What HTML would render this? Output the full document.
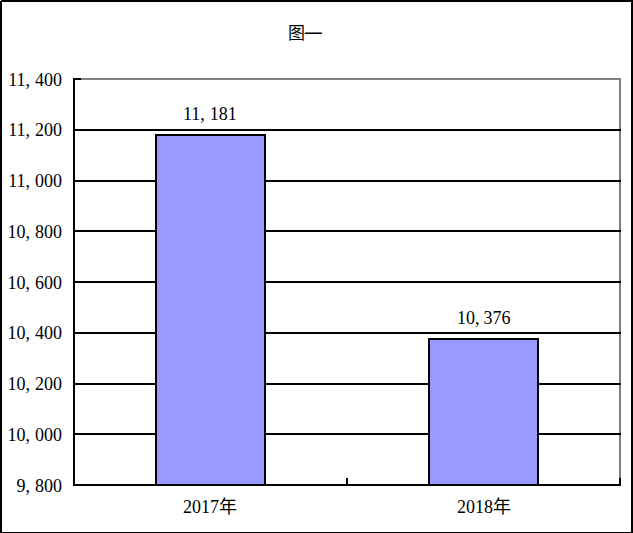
<!DOCTYPE html>
<html><head><meta charset="utf-8">
<style>
html,body{margin:0;padding:0;background:#fff;}
body{width:633px;height:533px;position:relative;overflow:hidden;
 font-family:"Liberation Serif","Noto Sans CJK SC",serif;color:#000;}
.a{position:absolute;}
.h{position:absolute;height:2px;background:#000;}
.v{position:absolute;width:2px;background:#000;}
.lbl{position:absolute;font-size:18px;line-height:18px;white-space:nowrap;}
.yl{position:absolute;right:571px;font-size:18px;line-height:18px;white-space:nowrap;text-align:right;}
.c{display:inline-block;width:5px;}
.bar{position:absolute;background:#9999ff;border:2px solid #000;box-sizing:border-box;}
</style></head><body>
<!-- outer border -->
<div class="a" style="left:0;top:0;width:633px;height:2px;background:#000"></div>
<div class="a" style="left:0;top:0;width:2px;height:533px;background:#000"></div>
<div class="a" style="left:631px;top:0;width:2px;height:533px;background:#000"></div>
<div class="a" style="left:0;top:532px;width:633px;height:1px;background:#000"></div>
<div class="a" style="left:0;top:0;width:1px;height:1px;background:#fff"></div>

<!-- title -->
<div class="lbl" style="left:288px;top:25px;font-size:17px;">图<span style="display:inline-block;position:relative;top:1px;margin-left:-1px;transform:scaleX(1.1);transform-origin:0 0">一</span></div>

<!-- plot area border (gray) -->
<div class="a" style="left:73px;top:78px;width:548px;height:2px;background:#808080"></div>
<div class="a" style="left:619px;top:78px;width:2px;height:408px;background:#808080"></div>

<!-- gridlines -->
<div class="h" style="left:73px;top:129px;width:548px"></div>
<div class="h" style="left:73px;top:180px;width:548px"></div>
<div class="h" style="left:73px;top:230px;width:548px"></div>
<div class="h" style="left:73px;top:281px;width:548px"></div>
<div class="h" style="left:73px;top:332px;width:548px"></div>
<div class="h" style="left:73px;top:383px;width:548px"></div>
<div class="h" style="left:73px;top:433px;width:548px"></div>

<!-- bars -->
<div class="bar" style="left:155px;top:134px;width:111px;height:352px"></div>
<div class="bar" style="left:428px;top:338px;width:111px;height:148px"></div>

<!-- axes -->
<div class="v" style="left:73px;top:78px;height:408px"></div>
<div class="h" style="left:73px;top:484px;width:548px"></div>
<div class="h" style="left:73px;top:78px;width:8px"></div>
<div class="v" style="left:346px;top:478px;height:7px"></div>
<div class="v" style="left:619px;top:478px;height:7px"></div>

<!-- y labels -->
<div class="yl" style="top:71px">11,<span class="c"></span>400</div>
<div class="yl" style="top:121px">11,<span class="c"></span>200</div>
<div class="yl" style="top:172px">11,<span class="c"></span>000</div>
<div class="yl" style="top:223px">10,<span class="c"></span>800</div>
<div class="yl" style="top:274px">10,<span class="c"></span>600</div>
<div class="yl" style="top:324px">10,<span class="c"></span>400</div>
<div class="yl" style="top:375px">10,<span class="c"></span>200</div>
<div class="yl" style="top:426px">10,<span class="c"></span>000</div>
<div class="yl" style="top:477px">9,<span class="c"></span>800</div>

<!-- data labels -->
<div class="lbl" style="left:183px;top:105px">11,<span class="c"></span>181</div>
<div class="lbl" style="left:457px;top:309px">10,<span class="c" style="width:4px"></span>376</div>

<!-- category labels -->
<div class="lbl" style="left:183px;top:498px">2017年</div>
<div class="lbl" style="left:457px;top:498px">2018年</div>
</body></html>
